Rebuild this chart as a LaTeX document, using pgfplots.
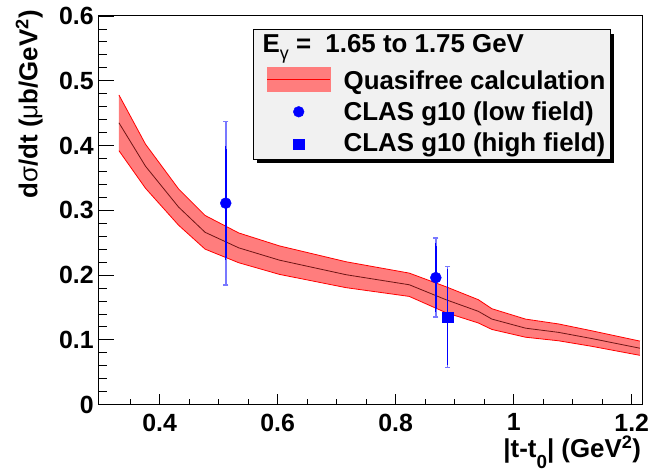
\documentclass[border=0pt]{standalone}
\usepackage{fontspec}
\setmainfont{Liberation Sans}
\usepackage{pgfplots}
\pgfplotsset{compat=1.18}
\usepgfplotslibrary{fillbetween}
\usepackage{pgfplotstable}

\definecolor{bandfill}{RGB}{255,125,125}
\definecolor{bandline}{RGB}{110,20,20}
\definecolor{legfill}{RGB}{241,241,241}
\definecolor{errlight}{RGB}{120,120,255}

% quasifree band: upper edge, lower edge, central value
\pgfplotstableread{
x     up     lo     c
0.331 0.478  0.392  0.435
0.376 0.402  0.334  0.368
0.432 0.333  0.277  0.305
0.477 0.292  0.240  0.266
0.534 0.265  0.219  0.242
0.603 0.245  0.201  0.223
0.716 0.2205 0.1805 0.2005
0.823 0.203  0.167  0.185
0.885 0.182  0.142  0.162
0.940 0.162  0.126  0.144
0.963 0.148  0.116  0.132
1.020 0.132  0.104  0.118
1.076 0.1245 0.0985 0.1115
1.132 0.114  0.090  0.102
1.214 0.098  0.076  0.087
}\band

% CLAS g10 points: value and stat error
\pgfplotstableread{
x     y     stat
0.512 0.311 0.084
0.868 0.196 0.049
}\low
\pgfplotstableread{
x     y     stat
0.888 0.135 0.070
}\high
% total error ranges (lower and upper ends)
\pgfplotstableread{
x     y
0.512 0.185
0.512 0.437
}\lowtotA
\pgfplotstableread{
x     y
0.868 0.135
0.868 0.257
}\lowtotB
\pgfplotstableread{
x     y
0.888 0.057
0.888 0.213
}\hightot

\begin{document}
\begin{tikzpicture}
\begin{axis}[
  scale only axis, width=544bp, height=389bp,
  xmin=0.297, xmax=1.218, ymin=0, ymax=0.6,
  clip mode=individual,
  axis line style={line width=1bp},
  tick align=inside, xtick pos=bottom, ytick pos=left,
  xtick={0.4,0.6,0.8,1,1.2},
  minor xtick={0.35,0.45,0.5,0.55,0.65,0.7,0.75,0.85,0.9,0.95,1.05,1.1,1.15},
  ytick={0,0.1,0.2,0.3,0.4,0.5,0.6},
  minor y tick num=4,
  xtick style={/pgfplots/major tick length=11bp, /pgfplots/minor tick length=5.5bp, line width=0.8bp, black},
  ytick style={/pgfplots/major tick length=15.5bp, /pgfplots/minor tick length=7.8bp, line width=0.8bp, black},
  /pgf/number format/assume math mode=true,
  ticklabel style={font=\fontsize{25}{30}\selectfont\bfseries},
  xticklabel style={inner sep=0pt, yshift=-9bp},
  yticklabel style={inner sep=0pt, xshift=-5bp},
  label style={font=\fontsize{26}{31}\selectfont\bfseries},
  xlabel={|t-t\raisebox{-11bp}{\fontsize{19}{19}\selectfont 0}| (GeV\textsuperscript{2})},
  ylabel={d{\mdseries σ}/dt ({\mdseries μ}b/GeV\textsuperscript{2})},
  xlabel style={at={(axis description cs:0.998,-0.137)}, anchor=base east, inner sep=0pt},
  ylabel style={at={(axis description cs:-0.113,1.0154)}, anchor=base east, inner sep=0pt},
  legend style={at={(axis description cs:0.3083,0.8689)}, anchor=north west,
    draw=none, fill=none, inner sep=0pt, row sep=3bp,
    font=\fontsize{26}{31}\selectfont\bfseries,
    nodes={inner sep=0pt, text height=19bp, text depth=6bp},
    cells={anchor=base west}},
]
% legend box with shadow
\fill[black] (axis description cs:0.2836,0.6316) ++(4bp,-4bp) rectangle ++(357.4bp,129.3bp);
\filldraw[fill=legfill, draw=black, line width=1bp] (axis description cs:0.2836,0.6316) rectangle (axis description cs:0.9406,0.964);
\node[anchor=base west, inner sep=0pt, font=\fontsize{26}{31}\selectfont\bfseries]
  at (axis description cs:0.3009,0.9067)
  {E\raisebox{-7bp}{\fontsize{18}{18}\selectfont\mdseries γ} =\ \ 1.65 to 1.75 GeV};

\addplot[forget plot, name path=up, red, line width=0.8bp] table[x=x, y=up]{\band};
\addplot[forget plot, name path=lo, red, line width=0.8bp] table[x=x, y=lo]{\band};
\addplot[forget plot, bandfill] fill between[of=up and lo];
\addplot[forget plot, bandline, line width=0.8bp] table[x=x, y=c]{\band};

% total errors (light)
\addplot[forget plot, errlight, line width=1.6bp, mark=-, mark size=2.5bp] table[x=x, y=y]{\lowtotA};
\addplot[forget plot, errlight, line width=1.6bp, mark=-, mark size=2.5bp] table[x=x, y=y]{\lowtotB};
\addplot[forget plot, errlight, line width=1.6bp, mark=-, mark size=2.5bp] table[x=x, y=y]{\hightot};

% points with statistical errors
\addplot[forget plot, blue, only marks, mark=*, mark size=5.5bp,
  error bars/.cd, y dir=both, y explicit,
  error bar style={draw=blue, line width=1.6bp},
  error mark options={draw=blue, mark size=2.5bp, line width=1.3bp}]
  table[x=x, y=y, y error=stat]{\low};
\addplot[forget plot, blue, only marks, mark=square*, mark size=5.3bp,
  error bars/.cd, y dir=both, y explicit,
  error bar style={draw=blue, line width=1.6bp},
  error mark options={draw=blue, mark size=2.5bp, line width=1.3bp}]
  table[x=x, y=y, y error=stat]{\high};

\addlegendimage{legend image code/.code={
  \path[draw=none, fill=none] (0bp,-3bp) rectangle (76.6bp,22bp);
  \fill[bandfill] (0bp,-1.5bp) rectangle (63.3bp,22.5bp);
  \draw[red, line width=1bp] (0bp,10.5bp) -- (63.3bp,10.5bp);}}
\addlegendentry{Quasifree calculation}
\addlegendimage{legend image code/.code={
  \path[draw=none, fill=none] (0bp,-3bp) rectangle (76.6bp,22bp);
  \fill[blue] (31.6bp,9bp) circle (5.4bp);}}
\addlegendentry{CLAS g10 (low field)}
\addlegendimage{legend image code/.code={
  \path[draw=none, fill=none] (0bp,-3bp) rectangle (76.6bp,22bp);
  \fill[blue] (26.3bp,2.2bp) rectangle (36.9bp,12.8bp);}}
\addlegendentry{CLAS g10 (high field)}

\coordinate (bl) at ([shift={(-99bp,-67bp)}]axis description cs:0,0);
\coordinate (tr) at ([shift={(6bp,16bp)}]axis description cs:1,1);
\end{axis}
\path (bl) rectangle (tr);
\end{tikzpicture}
\end{document}
